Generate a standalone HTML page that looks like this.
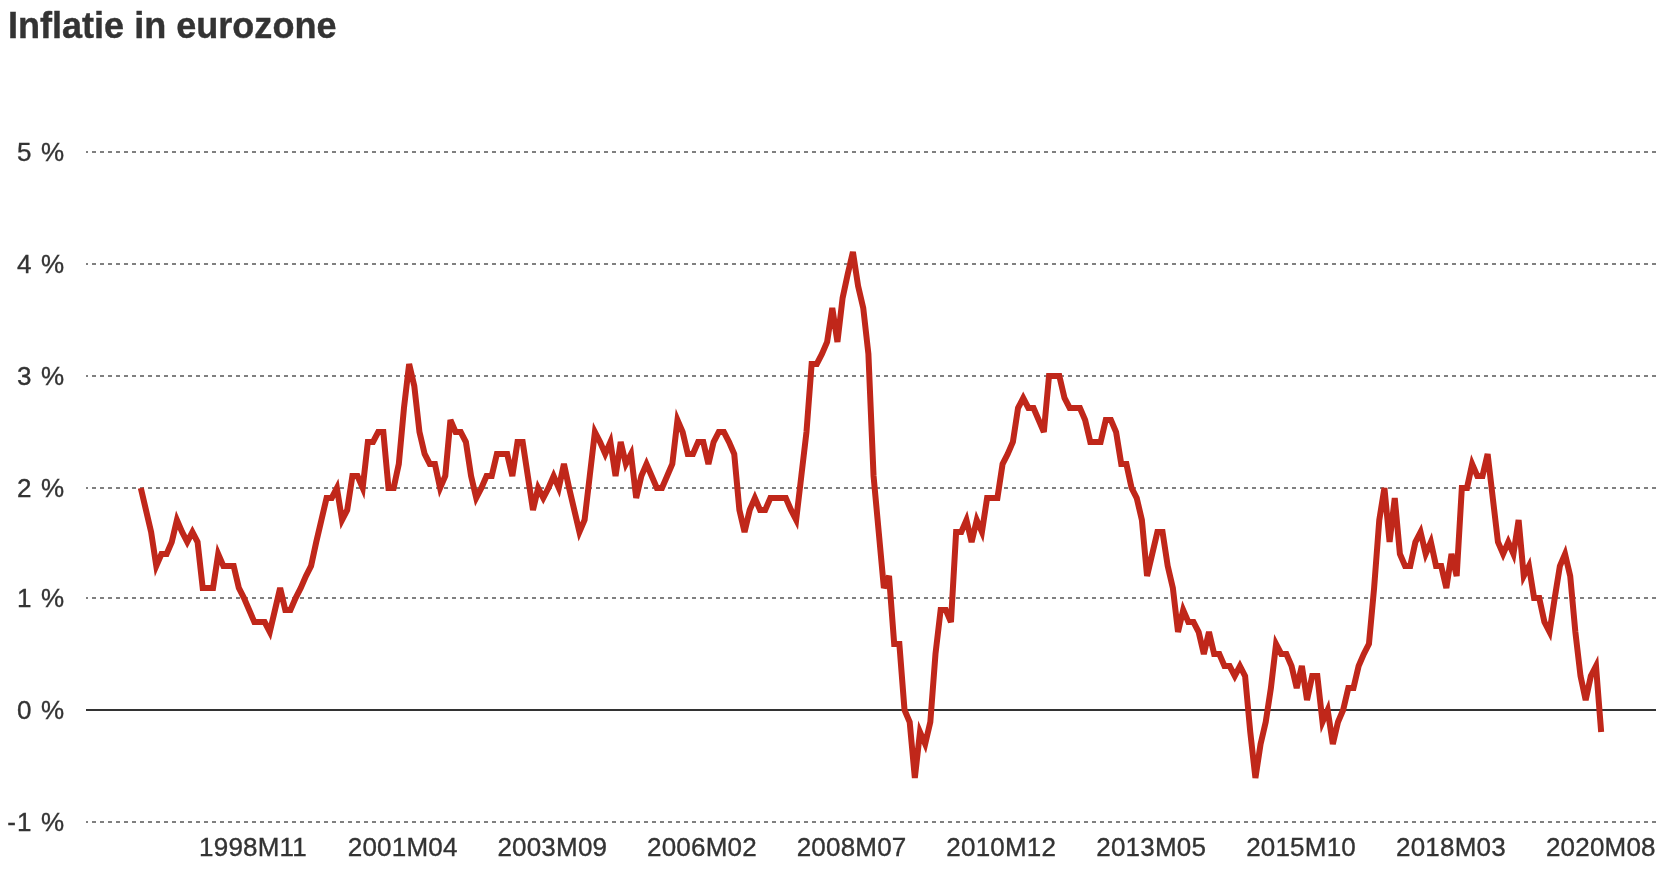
<!DOCTYPE html>
<html><head><meta charset="utf-8"><style>
html,body{margin:0;padding:0;background:#fff;}
body{width:1662px;height:876px;overflow:hidden;font-family:"Liberation Sans",sans-serif;}
svg{display:block;will-change:transform;}
text{-webkit-font-smoothing:antialiased;}
.title{font-family:"Liberation Sans",sans-serif;font-weight:bold;font-size:37px;fill:#333;stroke:#333;stroke-width:0.4px;}
.lab{font-family:"Liberation Sans",sans-serif;font-size:26px;fill:#333;stroke:#333;stroke-width:0.35px;}
.yl{letter-spacing:1.15px;}
.xl{letter-spacing:0.2px;}
</style></head><body>
<svg width="1662" height="876" viewBox="0 0 1662 876">
<text transform="translate(7.9,38) scale(0.975,1)" x="0" y="0" class="title">Inflatie in eurozone</text>
<line x1="86" x2="1656" y1="152" y2="152" stroke="#808080" stroke-width="2" stroke-dasharray="4 4" stroke-dashoffset="2"/>
<line x1="86" x2="1656" y1="264" y2="264" stroke="#808080" stroke-width="2" stroke-dasharray="4 4" stroke-dashoffset="2"/>
<line x1="86" x2="1656" y1="376" y2="376" stroke="#808080" stroke-width="2" stroke-dasharray="4 4" stroke-dashoffset="2"/>
<line x1="86" x2="1656" y1="488" y2="488" stroke="#808080" stroke-width="2" stroke-dasharray="4 4" stroke-dashoffset="2"/>
<line x1="86" x2="1656" y1="598" y2="598" stroke="#808080" stroke-width="2" stroke-dasharray="4 4" stroke-dashoffset="2"/>
<line x1="86" x2="1656" y1="822" y2="822" stroke="#808080" stroke-width="2" stroke-dasharray="4 4" stroke-dashoffset="2"/>

<line x1="86" x2="1656" y1="710" y2="710" stroke="#333333" stroke-width="2"/>
<text x="65.2" y="161" text-anchor="end" class="lab yl">5 %</text>
<text x="65.2" y="273" text-anchor="end" class="lab yl">4 %</text>
<text x="65.2" y="385" text-anchor="end" class="lab yl">3 %</text>
<text x="65.2" y="497" text-anchor="end" class="lab yl">2 %</text>
<text x="65.2" y="607" text-anchor="end" class="lab yl">1 %</text>
<text x="65.2" y="719" text-anchor="end" class="lab yl">0 %</text>
<text x="65.2" y="831" text-anchor="end" class="lab yl">-1 %</text>

<text x="253.03" y="856" text-anchor="middle" class="lab xl">1998M11</text>
<text x="402.67" y="856" text-anchor="middle" class="lab xl">2001M04</text>
<text x="552.32" y="856" text-anchor="middle" class="lab xl">2003M09</text>
<text x="701.97" y="856" text-anchor="middle" class="lab xl">2006M02</text>
<text x="851.62" y="856" text-anchor="middle" class="lab xl">2008M07</text>
<text x="1001.27" y="856" text-anchor="middle" class="lab xl">2010M12</text>
<text x="1151.17" y="856" text-anchor="middle" class="lab xl">2013M05</text>
<text x="1301.06" y="856" text-anchor="middle" class="lab xl">2015M10</text>
<text x="1450.96" y="856" text-anchor="middle" class="lab xl">2018M03</text>
<text x="1600.86" y="856" text-anchor="middle" class="lab xl">2020M08</text>

<polyline points="140.80,488 145.96,510 151.12,532 156.28,566 161.44,554 166.60,554 171.76,542 176.92,520 182.08,532 187.24,542 192.40,532 197.56,542 202.72,588 207.88,588 213.04,588 218.20,554 223.36,566 228.52,566 233.69,566 238.85,588 244.01,598 249.17,610 254.33,622 259.49,622 264.65,622 269.81,632 274.97,610 280.13,588 285.29,610 290.45,610 295.61,598 300.77,588 305.93,576 311.09,566 316.25,542 321.41,520 326.57,498 331.73,498 336.89,488 342.05,520 347.21,510 352.37,476 357.53,476 362.69,488 367.85,442 373.01,442 378.17,432 383.33,432 388.49,488 393.65,488 398.81,464 403.97,408 409.13,364 414.29,386 419.46,432 424.62,454 429.78,464 434.94,464 440.10,488 445.26,476 450.42,420 455.58,432 460.74,432 465.90,442 471.06,476 476.22,498 481.38,488 486.54,476 491.70,476 496.86,454 502.02,454 507.18,454 512.34,476 517.50,442 522.66,442 527.82,476 532.98,510 538.14,488 543.30,498 548.46,488 553.62,476 558.78,488 563.94,464 569.10,488 574.26,510 579.42,532 584.58,520 589.74,476 594.90,432 600.07,442 605.23,454 610.39,442 615.55,476 620.71,442 625.87,464 631.03,454 636.19,498 641.35,476 646.51,464 651.67,476 656.83,488 661.99,488 667.15,476 672.31,464 677.47,420 682.63,432 687.79,454 692.95,454 698.11,442 703.27,442 708.43,464 713.59,442 718.75,432 723.91,432 729.07,442 734.23,454 739.39,510 744.55,532 749.71,510 754.87,498 760.03,510 765.19,510 770.35,498 775.51,498 780.68,498 785.84,498 791.00,510 796.16,520 801.32,476 806.48,432 811.64,364 816.80,364 821.96,354 827.12,342 832.28,308 837.44,342 842.60,298 847.76,274 852.92,252 858.08,286 863.24,308 868.40,354 873.56,476 878.72,532 883.88,588 889.04,576 894.20,644 899.36,644 904.52,710 909.68,722 914.84,778 920.00,732 925.16,744 930.32,722 935.48,654 940.64,610 945.80,610 950.96,622 956.12,532 961.28,532 966.45,520 971.61,542 976.77,520 981.93,532 987.09,498 992.25,498 997.41,498 1002.57,464 1007.73,454 1012.89,442 1018.05,408 1023.21,398 1028.37,408 1033.53,408 1038.69,420 1043.85,432 1049.01,376 1054.17,376 1059.33,376 1064.49,398 1069.65,408 1074.81,408 1079.97,408 1085.13,420 1090.29,442 1095.45,442 1100.61,442 1105.77,420 1110.93,420 1116.09,432 1121.25,464 1126.41,464 1131.57,488 1136.73,498 1141.89,520 1147.06,576 1152.22,554 1157.38,532 1162.54,532 1167.70,566 1172.86,588 1178.02,632 1183.18,610 1188.34,622 1193.50,622 1198.66,632 1203.82,654 1208.98,632 1214.14,654 1219.30,654 1224.46,666 1229.62,666 1234.78,676 1239.94,666 1245.10,676 1250.26,732 1255.42,778 1260.58,744 1265.74,722 1270.90,688 1276.06,644 1281.22,654 1286.38,654 1291.54,666 1296.70,688 1301.86,666 1307.02,700 1312.18,676 1317.34,676 1322.50,722 1327.67,710 1332.83,744 1337.99,722 1343.15,710 1348.31,688 1353.47,688 1358.63,666 1363.79,654 1368.95,644 1374.11,588 1379.27,520 1384.43,488 1389.59,542 1394.75,498 1399.91,554 1405.07,566 1410.23,566 1415.39,542 1420.55,532 1425.71,554 1430.87,542 1436.03,566 1441.19,566 1446.35,588 1451.51,554 1456.67,576 1461.83,488 1466.99,488 1472.15,464 1477.31,476 1482.47,476 1487.63,454 1492.79,498 1497.95,542 1503.11,554 1508.27,542 1513.44,554 1518.60,520 1523.76,576 1528.92,566 1534.08,598 1539.24,598 1544.40,622 1549.56,632 1554.72,598 1559.88,566 1565.04,554 1570.20,576 1575.36,632 1580.52,676 1585.68,700 1590.84,676 1596.00,666 1601.16,732" fill="none" stroke="#c0271a" stroke-width="6" stroke-linejoin="miter" stroke-miterlimit="4"/>
</svg>
</body></html>
